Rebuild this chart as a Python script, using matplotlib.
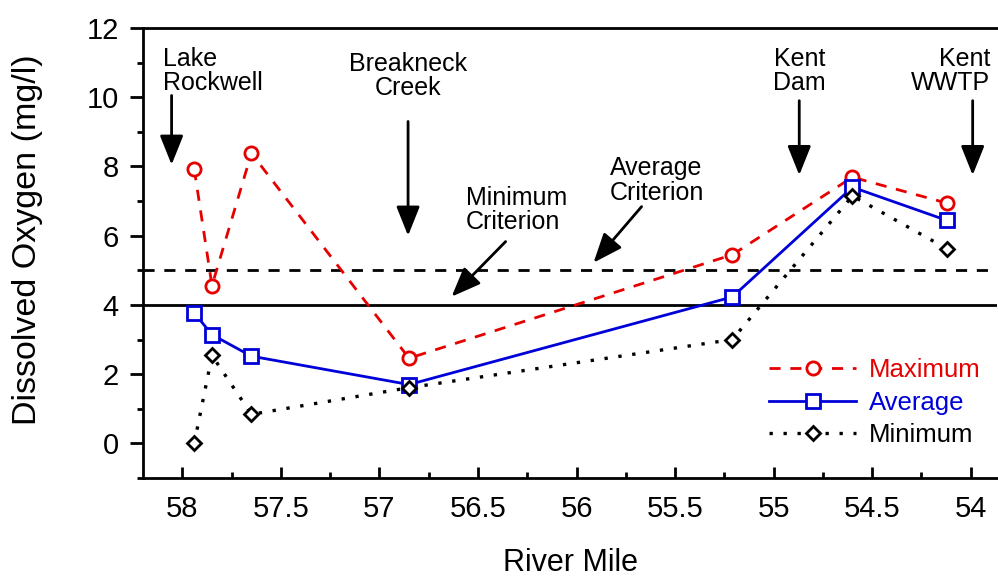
import matplotlib
matplotlib.use('Agg')
import matplotlib.pyplot as plt
from matplotlib.ticker import MultipleLocator, FormatStrFormatter

plt.rcParams['font.family'] = ['Liberation Sans', 'DejaVu Sans']
plt.rcParams['font.size'] = 18

# river mile of each sampling station
miles = [57.94, 57.85, 57.65, 56.85, 55.21, 54.60, 54.12]
max_do = [7.92, 4.56, 8.38, 2.46, 5.45, 7.69, 6.94]
avg_do = [3.77, 3.14, 2.52, 1.70, 4.23, 7.40, 6.44]
min_do = [0.0, 2.54, 0.84, 1.61, 3.00, 7.15, 5.62]

min_criterion = 4
avg_criterion = 5

fig = plt.figure(figsize=(9.98, 5.76), dpi=100)
ax = fig.add_axes([0.1433, 0.1701, 0.856, 0.7813])

ax.axhline(avg_criterion, color='black', lw=2, ls=(0, (4, 3.5)), zorder=1)
ax.axhline(min_criterion, color='black', lw=2, ls='-', zorder=1)

red = '#e60000'
blue = '#0000d8'
ax.plot(miles, max_do, color=red, ls=(0, (4, 3.5)), lw=2, marker='o', ms=9.5,
        mfc='white', mec=red, mew=2, label='Maximum', zorder=3)
ax.plot(miles, avg_do, color=blue, ls='-', lw=2, marker='s', ms=10,
        mfc='white', mec=blue, mew=2, label='Average', zorder=3)
ax.plot(miles, min_do, color='black', ls=(0, (1, 3.2)), lw=2.4, marker='D', ms=7,
        mfc='white', mec='black', mew=2, label='Minimum', zorder=4)

ax.set_xlim(58.2, 53.865)
ax.set_ylim(-1, 12)

ax.xaxis.set_major_locator(MultipleLocator(0.5))
ax.xaxis.set_minor_locator(MultipleLocator(0.25))
ax.xaxis.set_major_formatter(FormatStrFormatter('%g'))
ax.yaxis.set_major_locator(MultipleLocator(2))
ax.yaxis.set_minor_locator(MultipleLocator(1))

ax.tick_params(axis='x', which='major', direction='in', length=8, width=2, labelsize=21, pad=12)
ax.tick_params(axis='x', which='minor', direction='in', length=4.5, width=2)
ax.tick_params(axis='y', which='major', direction='out', length=9.5, width=2, labelsize=21, pad=8)
ax.tick_params(axis='y', which='minor', direction='out', length=4, width=2)

for s in ['left', 'bottom', 'top']:
    ax.spines[s].set_linewidth(2)
ax.spines['right'].set_visible(False)

ax.set_ylabel('Dissolved Oxygen (mg/l)', fontsize=24.5)
ax.yaxis.set_label_coords(-0.117, 0.529)
ax.set_xlabel('River Mile', fontsize=22, labelpad=18)

# site labels with vertical arrows
arr = dict(arrowstyle='-|>,head_length=1.0,head_width=0.4', color='black', lw=2,
           shrinkA=0, shrinkB=0)
ax.text(58.1, 11.45, 'Lake\nRockwell', ha='left', va='top', linespacing=1.0)
ax.annotate('', xy=(58.055, 8.05), xytext=(58.055, 10.05), arrowprops=arr)
ax.text(56.855, 11.3, 'Breakneck\nCreek', ha='center', va='top', linespacing=1.0)
ax.annotate('', xy=(56.855, 6.0), xytext=(56.855, 9.3), arrowprops=arr)
ax.text(54.87, 11.45, 'Kent\nDam', ha='center', va='top', linespacing=1.0)
ax.annotate('', xy=(54.87, 7.75), xytext=(54.87, 9.9), arrowprops=arr)
ax.text(53.9, 11.45, 'Kent\nWWTP', ha='right', va='top', linespacing=1.0)
ax.annotate('', xy=(53.99, 7.75), xytext=(53.99, 9.9), arrowprops=arr)

# criterion labels with diagonal arrows
ax.text(56.56, 7.45, 'Minimum\nCriterion', ha='left', va='top', linespacing=1.05)
ax.annotate('', xy=(56.634, 4.24), xytext=(56.36, 5.83), arrowprops=arr)
ax.text(55.83, 8.3, 'Average\nCriterion', ha='left', va='top', linespacing=1.05)
ax.annotate('', xy=(55.914, 5.22), xytext=(55.67, 6.84), arrowprops=arr)

leg = ax.legend(loc='lower right', bbox_to_anchor=(1.005, 0.023), frameon=False,
                fontsize=18.5, handlelength=3.4, handletextpad=0.5, labelspacing=0.33,
                borderaxespad=0.4)
for txt, c in zip(leg.get_texts(), [red, blue, 'black']):
    txt.set_color(c)

plt.savefig('out.png', dpi=100)
